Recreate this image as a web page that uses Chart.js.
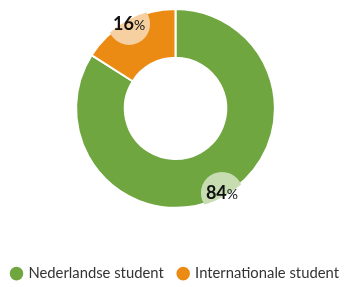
<!DOCTYPE html>
<html>
<head>
<meta charset="utf-8">
<script src="https://cdn.jsdelivr.net/npm/chart.js@4"></script>
<style>
  html, body { margin: 0; padding: 0; background: #fff; }
  .canvas-container { width: 344px; height: 287px; position: relative; }
</style>
</head>
<body>
<div class="canvas-container">
  <canvas id="chart"></canvas>
</div>
<script>
const labels = ["Nederlandse student", "Internationale student"];
const values = [84, 16];
const colors = ["#6fa63f", "#ec8b14"];
const lightColors = ["#c7ddb1", "#f6d0a0"];

// Light bubble with the percentage on the outer edge of each slice
const sliceLabels = {
  id: "sliceLabels",
  beforeLayout(chart) {
    // keep both legend items on one row
    const legend = chart.legend;
    if (!legend || legend._patched) return;
    const fit = legend.fit;
    legend.fit = function () {
      const mw = this.maxWidth;
      this.maxWidth = mw + 60;
      fit.call(this);
      this.maxWidth = mw;
      this.width = mw;
      this.height -= 8;
    };
    const draw = legend._draw;
    legend._draw = function () {
      this.left -= 30;
      this.right += 30;
      draw.call(this);
      this.left += 30;
      this.right -= 30;
    };
    legend._patched = true;
  },
  afterDatasetsDraw(chart) {
    const ctx = chart.ctx;
    const meta = chart.getDatasetMeta(0);
    meta.data.forEach((arc, i) => {
      const p = arc.getProps(["x", "y", "startAngle", "endAngle", "innerRadius", "outerRadius"], true);
      const mid = (p.startAngle + p.endAngle) / 2;
      const r = p.outerRadius - 3;
      const cx = p.x + Math.cos(mid) * r;
      const cy = p.y + Math.sin(mid) * r;

      ctx.save();
      ctx.beginPath();
      ctx.arc(p.x, p.y, p.outerRadius + 1, p.startAngle, p.endAngle);
      ctx.arc(p.x, p.y, p.innerRadius, p.endAngle, p.startAngle, true);
      ctx.closePath();
      ctx.clip();
      ctx.beginPath();
      ctx.arc(cx, cy, 21, 0, Math.PI * 2);
      ctx.fillStyle = lightColors[i];
      ctx.fill();
      ctx.restore();

      ctx.save();
      ctx.fillStyle = "#111";
      ctx.textBaseline = "alphabetic";
      const num = String(values[i]);
      ctx.font = "bold 18px Lato";
      const w1 = ctx.measureText(num).width;
      ctx.font = "14px Lato";
      const w2 = ctx.measureText("%").width;
      const x0 = cx - (w1 + w2) / 2;
      ctx.font = "bold 18px Lato";
      ctx.fillText(num, x0, cy + 6.5);
      ctx.font = "14px Lato";
      ctx.fillText("%", x0 + w1, cy + 6.5);
      ctx.restore();
    });
  },
};

new Chart(document.getElementById("chart"), {
  type: "doughnut",
  data: {
    labels: labels,
    datasets: [{
      data: values,
      backgroundColor: colors,
      borderColor: "#fff",
      borderWidth: 2,
      hoverOffset: 0,
    }],
  },
  options: {
    responsive: true,
    maintainAspectRatio: false,
    animation: false,
    cutout: "51%",
    layout: {
      padding: { top: 8, left: 7, right: 0, bottom: 4 },
    },
    plugins: {
      tooltip: { enabled: false },
      legend: {
        position: "bottom",
        title: {
          display: true,
          text: " ",
          padding: { top: 28, bottom: 0 },
          font: { size: 12 },
        },
        labels: {
          usePointStyle: true,
          pointStyle: "circle",
          boxWidth: 9,
          boxHeight: 11,
          padding: 15,
          color: "#333",
          font: { family: "Lato", size: 14.8 },
        },
      },
    },
  },
  plugins: [sliceLabels],
});
</script>
</body>
</html>
